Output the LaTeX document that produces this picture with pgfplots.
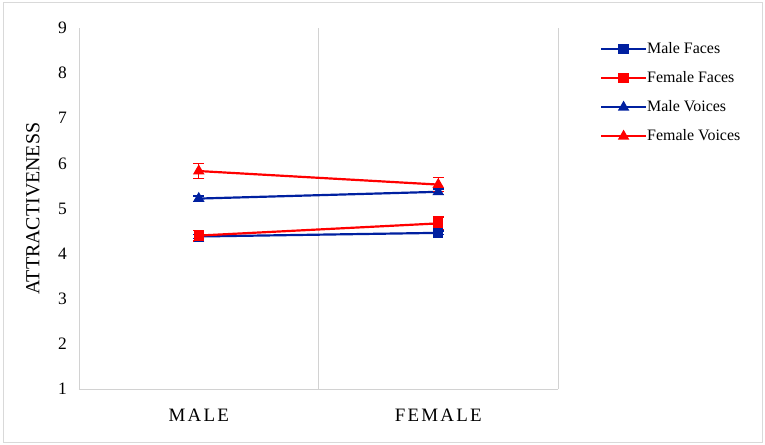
\documentclass[border=0pt]{standalone}
\usepackage{fontspec}
\setmainfont{Liberation Serif}
\usepackage{pgfplots}
\pgfplotsset{compat=1.18}
\definecolor{cblue}{RGB}{0,32,160}
\definecolor{cred}{RGB}{255,0,0}
\definecolor{lgray}{RGB}{210,210,210}
\definecolor{fgray}{RGB}{217,217,217}
\begin{document}
\begin{tikzpicture}
\begin{axis}[
  at={(0,0)}, anchor=south west,
  scale only axis, width=479bp, height=361bp,
  xmin=-0.5, xmax=1.5, ymin=1, ymax=9,
  ytick={1,2,...,9},
  xtick={0,1},
  xticklabels={{M\kern2.2bp A\kern2.2bp L\kern2.2bp E},{F\kern2.2bp E\kern2.2bp M\kern2.2bp A\kern2.2bp L\kern2.2bp E}},
  minor xtick={0.5,1.5},
  xminorgrids=true,
  minor grid style={lgray, line width=1pt},
  axis x line=bottom, axis y line=left,
  axis line style={lgray, line width=1pt, -},
  major tick length=0pt, minor tick length=0pt,
  /pgf/number format/assume math mode=true,
  yticklabel style={font=\fontsize{17.5}{20}\selectfont, inner sep=0pt, anchor=east, xshift=-12bp},
  xticklabel style={font=\fontsize{19}{22}\selectfont, inner sep=0pt, anchor=base, yshift=-32bp},
  ylabel={ATTRACTIVENESS},
  every axis y label/.style={at={(axis description cs:-0.096,0.5)}, rotate=90, anchor=center, font=\fontsize{20}{22}\selectfont},
  legend style={at={(rel axis cs:1.081,0.967)}, anchor=north west, draw=none, fill=none,
    font=\fontsize{16}{18}\selectfont, row sep=14.5bp,
    nodes={inner sep=0pt, text height=11bp, text depth=3.5bp},
    /tikz/every even column/.append style={column sep=5bp}},
  legend cell align=left,
  legend image code/.code={\draw[mark repeat=2,mark phase=2,#1] plot coordinates {(0bp,0bp) (22.5bp,0bp) (45bp,0bp)};},
  error bars/error bar style={line width=1.3pt},
  error bars/error mark options={rotate=90, mark size=5.5bp, line width=1.3pt},
]
\addplot[cblue, line width=2.2pt, mark=square*, mark size=4bp, mark options={solid},
  error bars/.cd, y dir=both, y explicit]
  coordinates {(0,4.38) +- (0,0.04) (1,4.46) +- (0,0.04)};
\addlegendentry{Male Faces}
\addplot[cred, line width=2.2pt, mark=square*, mark size=4bp, mark options={solid},
  error bars/.cd, y dir=both, y explicit]
  coordinates {(0,4.40) +- (0,0.12) (1,4.67) +- (0,0.14)};
\addlegendentry{Female Faces}
\addplot[cblue, line width=2.2pt, mark=triangle*, mark size=4.5bp, mark options={solid},
  error bars/.cd, y dir=both, y explicit]
  coordinates {(0,5.22) +- (0,0.06) (1,5.37) +- (0,0.06)};
\addlegendentry{Male Voices}
\addplot[cred, line width=2.2pt, mark=triangle*, mark size=4.5bp, mark options={solid},
  error bars/.cd, y dir=both, y explicit]
  coordinates {(0,5.83) +- (0,0.16) (1,5.53) +- (0,0.15)};
\addlegendentry{Female Voices}
\end{axis}
\pgfresetboundingbox
\path (-79bp,-56bp) rectangle (686bp,389bp);
\draw[fgray, line width=1pt] (-76bp,-53bp) rectangle (683bp,386bp);
\end{tikzpicture}
\end{document}
